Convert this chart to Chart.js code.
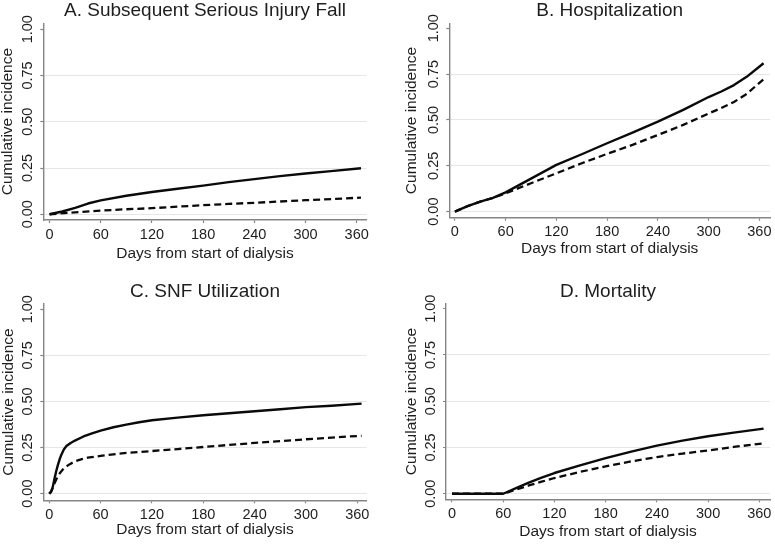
<!DOCTYPE html>
<html>
<head>
<meta charset="utf-8">
<script src="https://cdn.jsdelivr.net/npm/chart.js@4/dist/chart.umd.min.js"></script>
<style>
  html, body { margin: 0; padding: 0; background: #ffffff; }
  body { width: 775px; height: 545px; position: relative; overflow: hidden; }
  canvas { position: absolute; }
</style>
</head>
<body>
<canvas id="cA" width="390" height="272" style="left:0px;top:0px;"></canvas>
<canvas id="cB" width="385" height="272" style="left:390px;top:0px;"></canvas>
<canvas id="cC" width="390" height="273" style="left:0px;top:272px;"></canvas>
<canvas id="cD" width="385" height="273" style="left:390px;top:272px;"></canvas>
<script>
// ---- Data ----
const panelTitles = ["A. Subsequent Serious Injury Fall", "B. Hospitalization", "C. SNF Utilization", "D. Mortality"];
const xAxisTitle = "Days from start of dialysis";
const yAxisTitle = "Cumulative incidence";
const xTicks = [0, 60, 120, 180, 240, 300, 360];
const yTicks = [0, 0.25, 0.5, 0.75, 1];

// A. Subsequent serious injury fall
const fallSolidDays = [0, 15, 30, 45, 60, 90, 120, 150, 180, 210, 240, 270, 300, 330, 365];
const fallSolid = [0, 0.015, 0.035, 0.058, 0.075, 0.100, 0.120, 0.138, 0.155, 0.174, 0.190, 0.206, 0.220, 0.233, 0.249];
const fallDashedDays = [0, 30, 60, 90, 120, 150, 180, 210, 240, 270, 300, 330, 365];
const fallDashed = [0, 0.010, 0.020, 0.027, 0.033, 0.041, 0.049, 0.056, 0.062, 0.069, 0.076, 0.082, 0.090];

// B. Hospitalization
const hospDays = [0, 15, 30, 45, 60, 90, 120, 150, 180, 210, 240, 270, 300, 315, 330, 345, 365];
const hospSolid = [0, 0.030, 0.055, 0.075, 0.105, 0.180, 0.255, 0.313, 0.373, 0.431, 0.491, 0.555, 0.625, 0.655, 0.690, 0.735, 0.809];
const hospDashed = [0, 0.030, 0.055, 0.075, 0.100, 0.155, 0.209, 0.264, 0.315, 0.364, 0.418, 0.473, 0.535, 0.565, 0.598, 0.642, 0.722];

// C. SNF utilization
const snfSolidDays = [0, 2, 4, 6, 8, 10, 12, 14, 17, 20, 25, 30, 40, 50, 60, 75, 90, 105, 120, 150, 180, 210, 240, 270, 300, 330, 365];
const snfSolid = [0, 0.010, 0.035, 0.080, 0.120, 0.155, 0.185, 0.210, 0.240, 0.258, 0.275, 0.288, 0.310, 0.327, 0.342, 0.360, 0.374, 0.387, 0.398, 0.412, 0.425, 0.436, 0.447, 0.458, 0.469, 0.477, 0.488];
const snfDashedDays = [0, 2, 4, 6, 8, 10, 13, 16, 20, 24, 30, 38, 45, 60, 75, 90, 120, 150, 180, 210, 240, 270, 300, 330, 365];
const snfDashed = [0, 0.010, 0.030, 0.055, 0.075, 0.095, 0.115, 0.132, 0.148, 0.160, 0.175, 0.187, 0.195, 0.205, 0.213, 0.221, 0.231, 0.242, 0.253, 0.264, 0.275, 0.285, 0.295, 0.304, 0.314];

// D. Mortality
const mortDays = [0, 60, 75, 90, 105, 120, 150, 180, 210, 240, 270, 300, 330, 365];
const mortSolid = [0, 0, 0.030, 0.060, 0.087, 0.112, 0.153, 0.192, 0.228, 0.260, 0.287, 0.311, 0.330, 0.352];
const mortDashed = [0, 0, 0.022, 0.045, 0.065, 0.085, 0.118, 0.148, 0.175, 0.198, 0.217, 0.234, 0.253, 0.272];

// ---- Layout (canvas-relative pixel geometry per panel) ----
const layouts = {
  A: { w: 390, h: 272, left: 43.3, right: 366.7, top: 23.3, bottom: 220, titleMid: 10.5, xTitleMid: 254, yTitleMid: 8,
       xmin: -7.3, xmax: 371.7, ymin: -0.031, ymax: 1.032 },
  B: { w: 385, h: 272, left: 59.3, right: 380, top: 23.3, bottom: 217.7, titleMid: 10.5, xTitleMid: 249, yTitleMid: 21.7,
       xmin: -6.6, xmax: 372.6, ymin: -0.033, ymax: 1.027 },
  C: { w: 390, h: 273, left: 43.3, right: 366.7, top: 31.7, bottom: 228.3, titleMid: 19.5, xTitleMid: 258, yTitleMid: 8.3,
       xmin: -7.0, xmax: 371.0, ymin: -0.036, ymax: 1.030 },
  D: { w: 385, h: 273, left: 56, right: 380, top: 31.7, bottom: 227.3, titleMid: 19.5, xTitleMid: 260, yTitleMid: 21.7,
       xmin: -7.0, xmax: 372.5, ymin: -0.030, ymax: 1.027 }
};

const FONT = "'Liberation Sans', Arial, Helvetica, sans-serif";
const TEXT = '#1e1e1e';
const AXIS = '#858585';
const GRID = '#e6e6e6';

function pts(days, vals) { return days.map((d, i) => ({ x: d, y: vals[i] })); }

function makeChart(id, L, title, solidPts, dashedPts) {
  const yTitleSize = 15.5, titleSize = 19;
  const padLeft = L.yTitleMid - yTitleSize / 2;
  const yWidth = L.left - padLeft;
  const xScaleBottom = L.xTitleMid + yTitleSize / 2;
  const xHeight = xScaleBottom - L.bottom;
  const padBottom = L.h - xScaleBottom;
  const tPadTop = L.titleMid - titleSize / 2;
  const tPadBottom = L.top - L.titleMid - titleSize / 2;

  new Chart(document.getElementById(id), {
    type: 'line',
    data: {
      datasets: [
        { data: solidPts, borderColor: '#0a0a0a', borderWidth: 2.4, pointRadius: 0, tension: 0, fill: false, borderJoinStyle: 'round' },
        { data: dashedPts, borderColor: '#0a0a0a', borderWidth: 2.3, borderDash: [7, 4], pointRadius: 0, tension: 0, fill: false }
      ]
    },
    options: {
      responsive: false,
      animation: false,
      events: [],
      layout: { padding: { left: padLeft, right: L.w - L.right, top: 0, bottom: padBottom } },
      plugins: {
        legend: { display: false },
        tooltip: { enabled: false },
        title: {
          display: true, text: title, fullSize: false, align: 'center',
          color: TEXT, font: { family: FONT, size: titleSize, weight: 'normal', lineHeight: 1 },
          padding: { top: tPadTop, bottom: tPadBottom }
        }
      },
      scales: {
        x: {
          type: 'linear', min: L.xmin, max: L.xmax,
          afterBuildTicks: s => { s.ticks = xTicks.map(v => ({ value: v })); },
          afterFit: s => { s.height = xHeight; },
          ticks: { color: TEXT, font: { family: FONT, size: 14.5 }, padding: 3, maxRotation: 0, minRotation: 0, autoSkip: false,
                   callback: v => String(v) },
          grid: { drawOnChartArea: false, drawTicks: true, tickLength: 3, tickColor: AXIS, tickWidth: 1.2 },
          border: { display: true, color: AXIS, width: 1.4 },
          title: { display: true, text: xAxisTitle, color: TEXT, font: { family: FONT, size: yTitleSize, lineHeight: 1 }, padding: 0 }
        },
        y: {
          type: 'linear', min: L.ymin, max: L.ymax,
          afterBuildTicks: s => { s.ticks = yTicks.map(v => ({ value: v })); },
          afterFit: s => { s.width = yWidth; },
          ticks: { color: TEXT, font: { family: FONT, size: 14.5 }, padding: -2, minRotation: 90, maxRotation: 90,
                   crossAlign: 'center', autoSkip: false, callback: v => Number(v).toFixed(2) },
          grid: { drawOnChartArea: true, drawTicks: true, tickLength: 3, tickColor: AXIS, tickWidth: 1.2,
                  color: c => (c.tick && c.tick.value >= 1) ? 'rgba(0,0,0,0)' : GRID, lineWidth: 1 },
          border: { display: true, color: AXIS, width: 1.4 },
          title: { display: true, text: yAxisTitle, color: TEXT, font: { family: FONT, size: yTitleSize, lineHeight: 1 }, padding: 0 }
        }
      }
    }
  });
}

makeChart('cA', layouts.A, panelTitles[0], pts(fallSolidDays, fallSolid), pts(fallDashedDays, fallDashed));
makeChart('cB', layouts.B, panelTitles[1], pts(hospDays, hospSolid), pts(hospDays, hospDashed));
makeChart('cC', layouts.C, panelTitles[2], pts(snfSolidDays, snfSolid), pts(snfDashedDays, snfDashed));
makeChart('cD', layouts.D, panelTitles[3], pts(mortDays, mortSolid), pts(mortDays, mortDashed));
</script>
</body>
</html>
